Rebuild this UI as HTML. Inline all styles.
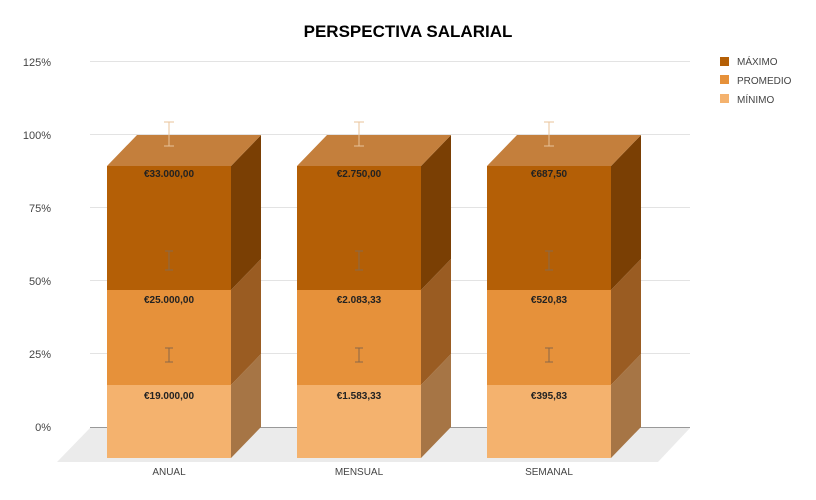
<!DOCTYPE html>
<html><head><meta charset="utf-8"><style>
html,body{margin:0;padding:0;background:#fff;}
svg{display:block;font-family:"Liberation Sans",Arial,sans-serif;}
</style></head><body>
<svg width="816" height="500" viewBox="0 0 816 500" xmlns="http://www.w3.org/2000/svg">
<text x="408" y="37" text-anchor="middle" font-size="17" font-weight="bold" fill="#000">PERSPECTIVA SALARIAL</text>
<g font-size="11" fill="#444" text-anchor="end">
<text x="51" y="66">125%</text><text x="51" y="139">100%</text><text x="51" y="212">75%</text>
<text x="51" y="285">50%</text><text x="51" y="358">25%</text><text x="51" y="431">0%</text>
</g>
<g stroke="#e3e3e3" stroke-width="1">
<line x1="90" y1="61.5" x2="690" y2="61.5"/><line x1="90" y1="134.5" x2="690" y2="134.5"/>
<line x1="90" y1="207.5" x2="690" y2="207.5"/><line x1="90" y1="280.5" x2="690" y2="280.5"/>
<line x1="90" y1="353.5" x2="690" y2="353.5"/>
</g>
<polygon points="90,428 690,428 658,462 57,462" fill="#ebebeb"/>
<line x1="90" y1="427.5" x2="690" y2="427.5" stroke="#999" stroke-width="1"/>
<defs>
<g id="bar">
<polygon points="124,385 154,354 154,427 124,458" fill="#a67545"/>
<polygon points="124,290 154,259 154,354 124,385" fill="#9a5c22"/>
<polygon points="124,166 154,135 154,259 124,290" fill="#7a3f04"/>
<polygon points="0,166 30,135 154,135 124,166" fill="#c47f3c"/>
<rect x="0" y="385" width="124" height="73" fill="#f4b26e"/>
<rect x="0" y="290" width="124" height="95" fill="#e6913a"/>
<rect x="0" y="166" width="124" height="124" fill="#b45f06"/>
<g stroke="#e8c39a" stroke-width="1" fill="none">
<line x1="62" y1="122" x2="62" y2="146"/><line x1="57" y1="122" x2="67" y2="122"/><line x1="57" y1="146" x2="67" y2="146"/>
</g>
<g stroke="#8a6848" stroke-width="1" fill="none">
<line x1="62" y1="251" x2="62" y2="270"/><line x1="58" y1="251" x2="66" y2="251"/><line x1="58" y1="270" x2="66" y2="270"/>
<line x1="62" y1="348" x2="62" y2="362"/><line x1="58" y1="348" x2="66" y2="348"/><line x1="58" y1="362" x2="66" y2="362"/>
</g>
</g>
</defs>
<use href="#bar" x="107"/>
<use href="#bar" x="297"/>
<use href="#bar" x="487"/>
<g font-size="10" font-weight="bold" fill="#222" text-anchor="middle">
<text x="169" y="177">€33.000,00</text><text x="169" y="303">€25.000,00</text><text x="169" y="399">€19.000,00</text>
<text x="359" y="177">€2.750,00</text><text x="359" y="303">€2.083,33</text><text x="359" y="399">€1.583,33</text>
<text x="549" y="177">€687,50</text><text x="549" y="303">€520,83</text><text x="549" y="399">€395,83</text>
</g>
<g font-size="10" fill="#444" text-anchor="middle">
<text x="169" y="475">ANUAL</text><text x="359" y="475">MENSUAL</text><text x="549" y="475">SEMANAL</text>
</g>
<rect x="720" y="57" width="9" height="9" fill="#b45f06"/>
<rect x="720" y="75" width="9" height="9" fill="#e6913a"/>
<rect x="720" y="94" width="9" height="9" fill="#f4b26e"/>
<g font-size="10" fill="#444">
<text x="737" y="65">MÁXIMO</text><text x="737" y="84">PROMEDIO</text><text x="737" y="103">MÍNIMO</text>
</g>
</svg>
</body></html>
